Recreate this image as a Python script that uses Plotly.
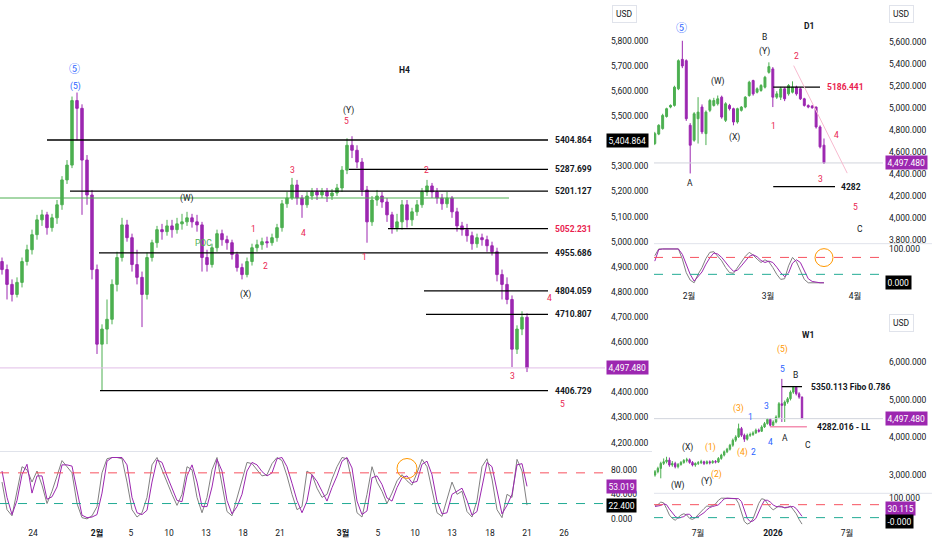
import plotly.graph_objects as go

# ---------------- H4 (left) ----------------
h4_open = [4921, 4889, 4830, 4790, 4838, 4921, 4968, 5028, 5087, 5107,
           5056, 5095, 5147, 5246, 5305, 5562, 5531, 5325, 5186, 4889,
           4592, 4652, 4691, 4830, 4937, 5067, 5016, 4909, 4858, 4790,
           4937, 4996, 5048, 5040, 5063, 5048, 5071, 5079, 5095, 5079,
           5067, 4937, 4909, 4976, 5032, 5008, 4996, 4949, 4897, 4869,
           4921, 4976, 4988, 5000, 4996, 5016, 5056, 5151, 5174, 5226,
           5174, 5147, 5182, 5198, 5186, 5198, 5182, 5194, 5214, 5285,
           5384, 5364, 5317, 5206, 5079, 5166, 5182, 5158, 5107, 5056,
           5079, 5147, 5087, 5119, 5147, 5198, 5222, 5198, 5174, 5151,
           5174, 5119, 5063, 5048, 5024, 4992, 5016, 5008, 4984, 4960,
           4869, 4830, 4770, 4572, 4652, 4699]
h4_high = [4937, 4909, 4850, 4858, 4937, 4988, 5048, 5107, 5127, 5119,
           5111, 5166, 5261, 5325, 5578, 5594, 5547, 5345, 5206, 4909,
           4671, 4770, 4850, 4960, 5095, 5087, 5032, 4968, 4881, 4957,
           5008, 5063, 5071, 5087, 5087, 5095, 5111, 5119, 5111, 5107,
           5079, 4968, 4992, 5048, 5048, 5024, 5008, 4960, 4913, 4937,
           4992, 5008, 5016, 5020, 5032, 5071, 5166, 5198, 5254, 5246,
           5186, 5198, 5214, 5214, 5214, 5214, 5210, 5230, 5301, 5412,
           5420, 5384, 5333, 5222, 5182, 5206, 5198, 5174, 5119, 5111,
           5166, 5166, 5135, 5166, 5214, 5246, 5234, 5214, 5190, 5198,
           5182, 5135, 5079, 5071, 5040, 5032, 5032, 5024, 5000, 4976,
           4889, 4858, 4786, 4667, 4723, 4715]
h4_low = [4869, 4770, 4762, 4778, 4818, 4905, 4949, 5008, 5063, 5028,
          5040, 5071, 5127, 5230, 5293, 5404, 5107, 5147, 4850, 4553,
          4406, 4592, 4671, 4802, 4921, 5000, 4881, 4830, 4660, 4770,
          4921, 4976, 5008, 5024, 5016, 5032, 5048, 5063, 5056, 5040,
          4881, 4881, 4897, 4960, 4984, 4968, 4929, 4881, 4850, 4858,
          4905, 4960, 4968, 4976, 4984, 5000, 5040, 5135, 5166, 5147,
          5095, 5135, 5166, 5166, 5174, 5158, 5166, 5182, 5198, 5269,
          5333, 5293, 5182, 4996, 5063, 5143, 5135, 5079, 5032, 5040,
          5048, 5056, 5063, 5103, 5135, 5182, 5174, 5151, 5127, 5135,
          5095, 5040, 5024, 5000, 4968, 4976, 4984, 4960, 4945, 4842,
          4770, 4751, 4501, 4553, 4628, 4481]
h4_close = [4889, 4830, 4790, 4838, 4921, 4968, 5028, 5087, 5107, 5056,
            5095, 5147, 5246, 5305, 5562, 5531, 5325, 5186, 4889, 4592,
            4652, 4691, 4830, 4937, 5067, 5016, 4909, 4858, 4790, 4937,
            4996, 5048, 5040, 5063, 5048, 5071, 5079, 5095, 5079, 5067,
            4937, 4909, 4976, 5032, 5008, 4996, 4949, 4897, 4869, 4921,
            4976, 4988, 5000, 4996, 5016, 5056, 5151, 5174, 5226, 5174,
            5147, 5182, 5198, 5186, 5198, 5182, 5194, 5214, 5285, 5384,
            5364, 5317, 5206, 5079, 5166, 5182, 5158, 5107, 5056, 5079,
            5147, 5087, 5119, 5147, 5198, 5222, 5198, 5174, 5151, 5174,
            5119, 5063, 5048, 5024, 4992, 5016, 5008, 4984, 4960, 4869,
            4830, 4770, 4572, 4652, 4699, 4497.48]
h4_stoch_k = [60, 15, 5, 45, 85, 80, 60, 78, 55, 25,
              45, 70, 95, 85, 75, 25, 2, 0, 5, 20,
              75, 98, 100, 100, 98, 60, 15, 3, 10, 35,
              88, 100, 80, 58, 40, 22, 40, 85, 80, 35,
              10, 35, 80, 100, 55, 12, 5, 35, 62, 92,
              90, 80, 70, 72, 90, 100, 95, 70, 40, 15,
              20, 78, 72, 50, 35, 40, 65, 85, 100, 98,
              60, 10, 3, 40, 85, 60, 45, 25, 42, 62,
              72, 62, 55, 75, 97, 85, 45, 10, 4, 30,
              60, 40, 45, 12, 3, 30, 85, 98, 65, 15,
              2, 40, 35, 97, 78, 22.4]
h4_stoch_d = [78, 35, 7, 30, 72, 89, 42, 70, 70, 32,
              36, 52, 88, 88, 86, 48, 6, 2, 3, 7,
              42, 94, 100, 100, 100, 88, 35, 10, 7, 14,
              60, 96, 92, 70, 50, 30, 28, 70, 88, 60,
              20, 20, 52, 97, 78, 30, 8, 20, 40, 78,
              92, 88, 77, 70, 75, 98, 100, 85, 58, 30,
              10, 29, 72, 61, 45, 29, 51, 70, 94, 100,
              83, 29, 7, 13, 67, 70, 56, 34, 29, 51,
              67, 70, 59, 61, 89, 94, 72, 29, 8, 10,
              40, 45, 50, 30, 6, 12, 55, 92, 85, 45,
              8, 22, 40, 88, 90, 53.019]
h4_tick_pos = [6.2, 19, 25.8, 33.4, 40.8, 48.2, 55.6, 68.2, 75.2, 82.6, 90, 97.6, 105, 112.4]
h4_tick_text = ["24", "<b>2월</b>", "5", "10", "13", "18", "21", "<b>3월</b>",
                "5", "10", "13", "18", "21", "26"]
h4_levels = [5404.864, 5287.699, 5201.127, 5052.231, 4955.686, 4804.059, 4710.807, 4406.729]
h4_level_start = [9, 69.4, 13.6, 77.2, 19.4, 84.4, 84.8, 19.6]
h4_poc = 5174

# ---------------- D1 (top right) ----------------
d1_open = [4674, 4760, 4810, 4920, 5006, 5021, 5172, 5440, 5428, 4840,
           4704, 4900, 5006, 4764, 4976, 5021, 5036, 5096, 4885, 5021,
           4991, 4870, 4976, 5006, 5111, 5247, 5141, 5157, 5187, 5322,
           5353, 5096, 5096, 5172, 5126, 5141, 5187, 5172, 5081, 5021,
           5015, 5006, 4825, 4659]
d1_high = [4780, 4850, 4945, 5000, 5030, 5200, 5440, 5609, 5440, 4860,
           4960, 5096, 5030, 4975, 5080, 5090, 5111, 5110, 5050, 5035,
           5000, 5000, 5015, 5105, 5245, 5255, 5185, 5215, 5290, 5413,
           5370, 5150, 5190, 5185, 5215, 5240, 5200, 5185, 5090, 5030,
           5025, 5010, 4840, 4720]
d1_low = [4660, 4750, 4800, 4910, 4995, 5010, 5160, 5360, 4880, 4402,
          4690, 4674, 4760, 4660, 4960, 5010, 5020, 4900, 4870, 4975,
          4840, 4855, 4965, 4995, 5100, 5110, 5130, 5145, 5175, 5310,
          5006, 5080, 5070, 5060, 5110, 5130, 5110, 5070, 5010, 4995,
          4990, 4810, 4630, 4490]
d1_close = [4764, 4840, 4930, 4991, 5021, 5187, 5428, 5380, 4900, 4659,
            4945, 4960, 4780, 4960, 5066, 5066, 5081, 4915, 5036, 4991,
            4870, 4991, 5006, 5096, 5232, 5126, 5172, 5202, 5277, 5374,
            5096, 5126, 5172, 5081, 5202, 5187, 5126, 5081, 5021, 5006,
            5000, 4825, 4644, 4497.48]
d1_stoch_k = [80, 100, 100, 100, 100, 100, 100, 70, 30, 8,
              0, 25, 45, 72, 90, 92, 80, 65, 45, 30,
              28, 45, 62, 78, 90, 82, 70, 60, 68, 62,
              45, 25, 10, 12, 50, 75, 62, 35, 10, 0,
              0, 0, 0, 0]
d1_stoch_d = [64, 98, 100, 100, 100, 100, 100, 84, 55, 25,
              5, 18, 32, 55, 74, 88, 85, 75, 60, 46,
              34, 37, 50, 65, 78, 83, 77, 66, 60, 64,
              60, 46, 30, 18, 29, 58, 68, 60, 35, 12,
              4, 1, 0, 0]
d1_tick_pos = [8.7, 28.8, 50.9]
d1_tick_text = ["2월", "3월", "4월"]
d1_levels = [5186.441, 4282]

# ---------------- W1 (bottom right) ----------------
w1_open = [2994, 3083, 3171, 3304, 3348, 3392, 3260, 3304, 3215, 3277,
           3330, 3383, 3401, 3330, 3260, 3304, 3322, 3348, 3304, 3348,
           3322, 3357, 3339, 3436, 3525, 3613, 3683, 3790, 3923, 4011,
           4232, 4055, 3949, 4055, 4073, 4117, 4188, 4161, 4276, 4365,
           4480, 4320, 4409, 4541, 4895, 4851, 4939, 5028, 5204, 5337,
           5160, 5072]
w1_high = [3127, 3215, 3348, 3436, 3481, 3460, 3366, 3348, 3313, 3366,
           3419, 3454, 3436, 3366, 3330, 3366, 3401, 3375, 3383, 3383,
           3392, 3392, 3472, 3560, 3649, 3719, 3825, 3967, 4055, 4365,
           4276, 4099, 4099, 4126, 4161, 4232, 4232, 4320, 4409, 4515,
           4515, 4453, 4586, 4939, 5558, 4983, 5072, 5249, 5364, 5364,
           5204, 5090]
w1_low = [2950, 3039, 2906, 3260, 3304, 3215, 3215, 3171, 3171, 3242,
          3295, 3330, 3295, 3224, 3215, 3260, 3286, 3260, 3277, 3277,
          3295, 3304, 3313, 3401, 3490, 3578, 3648, 3746, 3878, 3985,
          4011, 3878, 3914, 4011, 4038, 4090, 4126, 4144, 4250, 4338,
          4285, 4285, 4374, 4515, 4409, 4409, 4895, 4983, 5160, 5116,
          5028, 4480]
w1_close = [3083, 3171, 3304, 3348, 3392, 3260, 3304, 3215, 3277, 3330,
            3383, 3401, 3330, 3260, 3304, 3322, 3348, 3304, 3348, 3322,
            3357, 3339, 3436, 3525, 3613, 3683, 3790, 3923, 4011, 4232,
            4055, 3949, 4055, 4073, 4117, 4188, 4161, 4276, 4365, 4480,
            4320, 4409, 4541, 4895, 4851, 4939, 5028, 5204, 5337, 5160,
            5072, 4497.48]
w1_stoch_k = [72, 75, 85, 82, 60, 35, 22, 15, 25, 35,
              40, 35, 22, 18, 25, 38, 48, 60, 70, 68,
              72, 78, 92, 100, 100, 100, 100, 100, 98, 80,
              45, 10, 0, 5, 20, 50, 80, 98, 95, 80,
              65, 55, 62, 70, 68, 62, 64, 70, 55, 40,
              18, 0]
w1_stoch_d = [68, 70, 72, 78, 75, 58, 42, 30, 23, 25,
              29, 38, 38, 25, 25, 29, 36, 44, 55, 64,
              68, 70, 74, 86, 97, 100, 100, 100, 100, 98,
              87, 52, 22, 10, 12, 22, 48, 72, 92, 92,
              85, 74, 68, 68, 66, 64, 66, 68, 68, 60,
              45, 30.115]
w1_tick_pos = [14.9, 40.9, 66.6]
w1_tick_text = ["7월", "<b>2026</b>", "7월"]
w1_levels = [5350.113, 4282.016]

last_price = 4497.48

GREEN = "#4caf50"
PURPLE = "#9c27b0"
RED = "#e91e4f"
BLUE = "#2962ff"
ORANGE = "#ff9800"
INK = "#131722"
FONT = "Roboto, 'Noto Sans CJK KR', sans-serif"
W, H = 932, 550


def px_x(p):
    return p / W


def px_y(p):
    return 1 - p / H


def candles(o, h, l, c, xa, ya):
    return go.Candlestick(
        x=list(range(len(o))), open=o, high=h, low=l, close=c,
        xaxis=xa, yaxis=ya, whiskerwidth=0,
        increasing=dict(line=dict(color=GREEN, width=1), fillcolor=GREEN),
        decreasing=dict(line=dict(color=PURPLE, width=1), fillcolor=PURPLE),
        showlegend=False, hoverinfo="skip")


def stoch(vals, color, xa, ya):
    return go.Scatter(x=list(range(len(vals))), y=vals, mode="lines",
                      line=dict(color=color, width=1), xaxis=xa, yaxis=ya,
                      showlegend=False, hoverinfo="skip")


fig = go.Figure()
fig.add_trace(candles(h4_open, h4_high, h4_low, h4_close, "x", "y"))
fig.add_trace(stoch(h4_stoch_k, "#808080", "x", "y2"))
fig.add_trace(stoch(h4_stoch_d, PURPLE, "x", "y2"))
fig.add_trace(candles(d1_open, d1_high, d1_low, d1_close, "x2", "y3"))
fig.add_trace(stoch(d1_stoch_k, "#808080", "x2", "y4"))
fig.add_trace(stoch(d1_stoch_d, PURPLE, "x2", "y4"))
fig.add_trace(candles(w1_open, w1_high, w1_low, w1_close, "x3", "y5"))
fig.add_trace(stoch(w1_stoch_k, "#808080", "x3", "y6"))
fig.add_trace(stoch(w1_stoch_d, PURPLE, "x3", "y6"))

tick_font = dict(size=8.5, color=INK, family=FONT)
xbase = dict(showgrid=False, zeroline=False, showline=False, ticks="",
             rangeslider=dict(visible=False), tickfont=tick_font)
ybase = dict(showgrid=False, zeroline=False, showline=False, ticks="",
             side="right", tickfont=tick_font, ticklabelstandoff=5)

fig.update_layout(
    width=W, height=H, margin=dict(l=0, r=0, t=0, b=0),
    paper_bgcolor="white", plot_bgcolor="white", showlegend=False,
    font=dict(family=FONT, color=INK),
    xaxis=dict(xbase, domain=[0, px_x(605)], range=[-0.4, 120.6], anchor="y2",
               tickvals=h4_tick_pos, ticktext=h4_tick_text),
    yaxis=dict(ybase, domain=[px_y(452), 1], range=[4168.5, 5958.4], anchor="x",
               tickvals=[v for v in range(4200, 5900, 100) if v not in (5400, 4500)],
               tickformat=",.3f"),
    yaxis2=dict(ybase, domain=[px_y(528), px_y(455)], range=[-11.8, 106.5], anchor="x",
                tickvals=[0, 40, 80], tickformat=".3f"),
    xaxis2=dict(xbase, domain=[px_x(654), px_x(883)], range=[-0.2, 58.0], anchor="y4",
                tickvals=d1_tick_pos, ticktext=d1_tick_text),
    yaxis3=dict(ybase, domain=[px_y(243), 1], range=[3772, 5971], anchor="x2",
                tickvals=list(range(3800, 5700, 200)), tickformat=",.3f"),
    yaxis4=dict(ybase, domain=[px_y(290), px_y(245)], range=[-19.6, 112.7], anchor="x2",
                tickvals=[100], tickformat=".3f"),
    xaxis3=dict(xbase, domain=[px_x(654), px_x(883)], range=[-0.35, 79.1], anchor="y6",
                tickvals=w1_tick_pos, ticktext=w1_tick_text),
    yaxis5=dict(ybase, domain=[px_y(494), px_y(305)], range=[2533, 7546], anchor="x3",
                tickvals=[3000, 4000, 5000, 6000], tickformat=",.3f"),
    yaxis6=dict(ybase, domain=[px_y(528), px_y(496)], range=[-7.7, 115], anchor="x3",
                tickvals=[100], tickformat=".3f"),
)

shapes = []
annos = []


def hline(xref, yref, x0, x1, y, color, width=1.3, dash="solid"):
    shapes.append(dict(type="line", xref=xref, yref=yref, x0=x0, x1=x1, y0=y, y1=y,
                       line=dict(color=color, width=width, dash=dash), layer="above"))


def text(t, x, y, xref, yref, color=INK, size=8.5, xanchor="center", weight=None):
    f = dict(size=size, color=color, family=FONT)
    if weight:
        f["weight"] = weight
    annos.append(dict(text=t, x=x, y=y, xref=xref, yref=yref, showarrow=False,
                      xanchor=xanchor, yanchor="middle", font=f))


def value_box(t, y, yref, bg, x_px):
    annos.append(dict(text=t, x=px_x(x_px), y=y, xref="paper", yref=yref, showarrow=False,
                      xanchor="left", yanchor="middle", bgcolor=bg, borderpad=1.5,
                      font=dict(size=8.5, color="white", family=FONT)))


def usd_box(x_px, y_px):
    annos.append(dict(text="USD", x=px_x(x_px), y=px_y(y_px), xref="paper", yref="paper",
                      showarrow=False, xanchor="left", yanchor="middle", bgcolor="white",
                      bordercolor="#e0e3eb", borderwidth=1, borderpad=3,
                      font=dict(size=8.5, color=INK, family=FONT)))


# pane separators
for y_px, x0, x1 in [(453, 0, 652), (244, 654, 932), (495, 654, 932)]:
    shapes.append(dict(type="line", xref="paper", yref="paper", x0=px_x(x0), x1=px_x(x1),
                       y0=px_y(y_px), y1=px_y(y_px), line=dict(color="#e0e3eb", width=1)))

# stochastic bands
for ya, xa in [("y2", "x"), ("y4", "x2"), ("y6", "x3")]:
    hline(xa + " domain", ya, 0, 1, 75, "#f7525f", 1, "dash")
    hline(xa + " domain", ya, 0, 1, 25, "#22ab94", 1, "dash")

# last price lines
hline("x domain", "y", 0, 1, last_price, "#e1bee7", 1)
hline("x2 domain", "y3", 0, 1, last_price, "#d1d4dc", 1)
hline("x3 domain", "y5", 0, 1, last_price, "#d1d4dc", 1)

# H4 levels
hline("x", "y", -0.4, 101.4, h4_poc, GREEN, 1)
for lv, x0 in zip(h4_levels, h4_level_start):
    hline("x", "y", x0, 109.2, lv, "#000000", 1.3)
    col = RED if lv == 5052.231 else INK
    text(f"{lv:.3f}", 110.2, lv, "x", "y", col, 8.5, "left", "bold")

# D1 levels
hline("x2", "y3", 30.1, 42, d1_levels[0], "#000000", 1.3)
text(f"{d1_levels[0]:.3f}", 43.3, d1_levels[0], "x2", "y3", RED, 8.5, "left", "bold")
hline("x2", "y3", 30.1, 45.8, d1_levels[1], "#000000", 1.3)
text(f"{d1_levels[1]}", 46.9, d1_levels[1], "x2", "y3", INK, 8.5, "left", "bold")
shapes.append(dict(type="line", xref="x2", yref="y3", x0=35.3, y0=5383, x1=48.9, y1=4405,
                   line=dict(color="#f8bbd0", width=1)))

# W1 levels
hline("x3", "y5", 44, 51, w1_levels[0], "#000000", 1.3)
text(f"{w1_levels[0]:.3f} Fibo 0.786", 53.4, w1_levels[0], "x3", "y5", INK, 8.5, "left", "bold")
hline("x3", "y5", 39.9, 52.7, w1_levels[1], "#f48fb1", 1.3)
text(f"{w1_levels[1]:.3f} - LL", 55.5, w1_levels[1], "x3", "y5", INK, 8.5, "left", "bold")

# wave labels
h4_labels = [("⑤", 14.4, 5685, BLUE, 11), ("(5)", 14.6, 5618, BLUE, 8.5),
             ("H4", 80.4, 5685, INK, 8.5), ("(Y)", 69.2, 5523, INK, 8.5),
             ("5", 68.8, 5479, RED, 8.5), ("3", 58, 5285, RED, 8.5),
             ("2", 84.8, 5285, RED, 8.5), ("(W)", 37, 5174, INK, 8.5),
             ("1", 50.2, 5052, RED, 8.5), ("4", 60.2, 5036, RED, 8.5),
             ("POC", 40.2, 4996, GREEN, 8.5), ("2", 52.6, 4905, RED, 8.5),
             ("(X)", 48.6, 4790, INK, 8.5), ("1", 72.4, 4941, RED, 8.5),
             ("4", 109.4, 4774, RED, 8.5), ("3", 102, 4466, RED, 8.5),
             ("5", 112, 4355, RED, 8.5)]
d1_labels = [("⑤", 6.9, 5718, BLUE, 11), ("(W)", 16.1, 5238, INK, 8.5),
             ("(X)", 20.2, 4731, INK, 8.5), ("B", 28, 5645, INK, 8.5),
             ("(Y)", 28, 5510, INK, 8.5), ("A", 9, 4315, INK, 8.5),
             ("2", 35.9, 5473, RED, 8.5), ("1", 30.1, 4831, RED, 8.5),
             ("4", 46.1, 4749, RED, 8.5), ("3", 42, 4351, RED, 8.5),
             ("5", 50.9, 4098, RED, 8.5), ("C", 52.2, 3899, INK, 8.5),
             ("D1", 39.2, 5745, INK, 8.5)]
w1_labels = [("W1", 53.1, 6724, INK, 8.5), ("(5)", 44.1, 6353, ORANGE, 8.5),
             ("5", 44.1, 5822, BLUE, 8.5), ("B", 48.9, 5663, INK, 8.5),
             ("(3)", 28.8, 4761, ORANGE, 8.5), ("1", 33, 4549, BLUE, 8.5),
             ("3", 38.8, 4841, BLUE, 8.5), ("A", 45.1, 3992, INK, 8.5),
             ("4", 40.2, 3886, BLUE, 8.5), ("C", 53.1, 3806, INK, 8.5),
             ("2", 34, 3621, BLUE, 8.5), ("(4)", 30.2, 3594, ORANGE, 8.5),
             ("(X)", 11.1, 3727, INK, 8.5), ("(1)", 19.1, 3727, ORANGE, 8.5),
             ("(2)", 21.2, 3011, ORANGE, 8.5), ("(W)", 8, 2719, INK, 8.5),
             ("(Y)", 18, 2825, INK, 8.5)]
for labels, xr, yr in [(h4_labels, "x", "y"), (d1_labels, "x2", "y3"), (w1_labels, "x3", "y5")]:
    for t, x, y, c, s in labels:
        text(t, x, y, xr, yr, c, s, "center", "bold" if c == INK and len(t) == 2 and t[0] in "HDW" else None)

# orange circles on the oscillators
for cx, cy, r in [(407, 470, 10), (824, 258, 9)]:
    shapes.append(dict(type="circle", xref="paper", yref="paper",
                       x0=px_x(cx - r), x1=px_x(cx + r), y0=px_y(cy + r), y1=px_y(cy - r),
                       line=dict(color=ORANGE, width=1)))

# axis value boxes
value_box("5,404.864", h4_levels[0], "y", "#000000", 606)
value_box(f"{last_price:,.3f}", last_price, "y", PURPLE, 606)
value_box(f"{h4_stoch_d[-1]:.3f}", h4_stoch_d[-1], "y2", PURPLE, 606)
value_box(f"{h4_stoch_k[-1]:.3f}", h4_stoch_k[-1], "y2", "#000000", 606)
value_box(f"{last_price:,.3f}", last_price, "y3", PURPLE, 885)
value_box(f"{d1_stoch_d[-1]:.3f}", d1_stoch_d[-1], "y4", "#000000", 885)
value_box(f"{last_price:,.3f}", last_price, "y5", PURPLE, 885)
# the two W1 oscillator boxes are pushed apart, as the platform does
value_box(f"{w1_stoch_d[-1]:.3f}", px_y(510), "paper", PURPLE, 885)
value_box("-0.000", px_y(523), "paper", "#000000", 885)

usd_box(612, 13)
usd_box(889, 13)
usd_box(889, 324)

fig.update_layout(shapes=shapes, annotations=annos)
fig.write_html("out.html", config={"displayModeBar": False},
               post_script="document.body.style.margin='0';document.body.style.overflow='hidden';")
